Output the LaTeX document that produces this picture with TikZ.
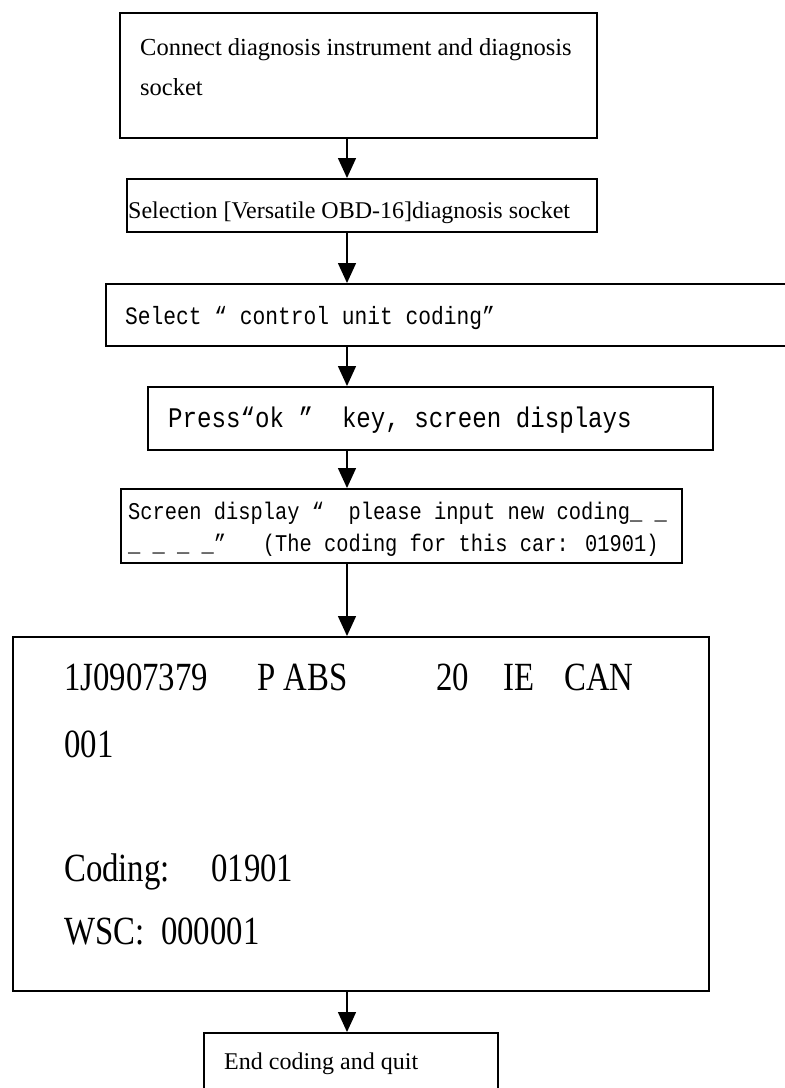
\documentclass[tikz,border=0pt]{standalone}
\usepackage{fontspec}
\setmainfont{Liberation Serif}
\newfontfamily\sunfont[FakeStretch=0.85]{Liberation Mono}
\newfontfamily\bigfont[FakeStretch=0.82]{Liberation Serif}
\usetikzlibrary{arrows.meta}
\begin{document}
\begin{tikzpicture}[x=1pt,y=-1pt,
  box/.style={draw, line width=1.6pt, inner sep=0pt, anchor=north west},
  lbl/.style={anchor=base west, inner sep=0pt},
  flow/.style={-{Triangle[length=20pt,width=18pt]}, line width=1.5pt}]
\useasboundingbox (0,0) rectangle (785,1088);
\coordinate (ax) at (347,0);
% boxes
\node[box, minimum width=477pt, minimum height=125pt] (b1) at (119,12) {};
\node[box, minimum width=470pt, minimum height=53pt] (b2) at (126,178) {};
\node[box, minimum width=690pt, minimum height=62pt] (b3) at (105,283) {};
\node[box, minimum width=565pt, minimum height=63pt] (b4) at (147,386) {};
\node[box, minimum width=561pt, minimum height=74pt] (b5) at (120,488) {};
\node[box, minimum width=696pt, minimum height=354pt] (b6) at (12,636) {};
\node[box, minimum width=294pt, minimum height=100pt] (b7) at (203,1032) {};
% texts
\node[lbl, font=\fontsize{24.5}{24.5}\selectfont] (t1a) at (140,55) {Connect diagnosis instrument and diagnosis};
\node[lbl, font=\fontsize{24.5}{24.5}\selectfont] (t1b) at (140,95) {socket};
\node[lbl, font=\fontsize{24}{24}\selectfont] (t2) at (128,218) {Selection [Versatile OBD-16]diagnosis socket};
\node[lbl, font=\sunfont\fontsize{25}{25}\selectfont] (t3) at (125,324) {Select “ control unit coding”};
\node[lbl, font=\sunfont\fontsize{28.4}{28.4}\selectfont] (t4) at (168,427) {Press“ok ”\ \ key, screen displays};
\node[lbl, font=\sunfont\fontsize{24}{24}\selectfont] (t5a) at (128,519) {Screen display “\ \ please input new coding\_ \_};
\node[lbl, font=\sunfont\fontsize{24}{24}\selectfont] (t5b) at (128,551) {\_ \_ \_ \_”\ \ \ (The coding for this car: 01901)};
\node[lbl, font=\bigfont\fontsize{40}{40}\selectfont] (t6a) at (64,690) {\makebox[193pt][l]{1J0907379}\makebox[179pt][l]{P ABS}\makebox[67pt][l]{20}\makebox[61pt][l]{IE}CAN};
\node[lbl, font=\bigfont\fontsize{40}{40}\selectfont] (t6b) at (64,757) {001};
\node[lbl, font=\bigfont\fontsize{40}{40}\selectfont] (t6c) at (64,881) {\makebox[147pt][l]{Coding:}01901};
\node[lbl, font=\bigfont\fontsize{40}{40}\selectfont] (t6d) at (64,944) {\makebox[97pt][l]{WSC:}000001};
\node[lbl, font=\fontsize{24}{24}\selectfont] (t7) at (224,1069) {End coding and quit};
% arrows
\draw[flow] (b1.south -| ax) -- (b2.north -| ax);
\draw[flow] (b2.south -| ax) -- (b3.north -| ax);
\draw[flow] (b3.south -| ax) -- (b4.north -| ax);
\draw[flow] (b4.south -| ax) -- (b5.north -| ax);
\draw[flow] (b5.south -| ax) -- (b6.north -| ax);
\draw[flow] (b6.south -| ax) -- (b7.north -| ax);
\end{tikzpicture}
\end{document}
